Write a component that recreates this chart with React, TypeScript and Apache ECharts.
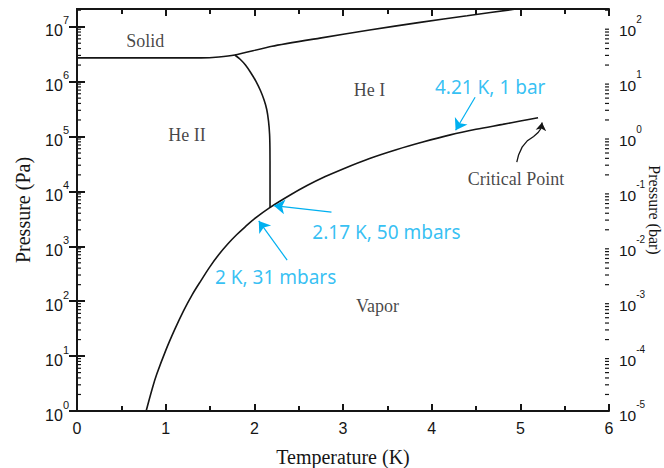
import React, { useEffect, useRef } from "react";
import * as echarts from "echarts";

// Saturated vapour pressure curve (T in K, P in Pa)
const vaporT = [0.78, 0.85, 0.9, 1.0, 1.1, 1.2, 1.3, 1.4, 1.5, 1.6, 1.7, 1.8, 1.9, 2.0, 2.17, 2.4, 2.6, 2.8, 3.0, 3.3, 3.6, 3.9, 4.21, 4.5, 4.8, 5.0, 5.2];
const vaporP = [1, 2.6, 4.7, 12.6, 30, 66, 132, 240, 427, 708, 1100, 1620, 2290, 3160, 5010, 8510, 12900, 18600, 25700, 39800, 57500, 79400, 107000, 135000, 166000, 191000, 219000];

// Melting curve
const meltT = [0, 0.5, 1.0, 1.4, 1.6, 1.78, 2.2, 2.74, 3.3, 3.87, 4.4, 4.95];
const meltP = [2.7e6, 2.7e6, 2.7e6, 2.7e6, 2.8e6, 3.05e6, 4.4e6, 6.2e6, 8.7e6, 1.2e7, 1.58e7, 2.1e7];

// Lambda line
const lambdaT = [1.78, 1.84, 1.9, 1.96, 2.02, 2.07, 2.11, 2.14, 2.16, 2.172, 2.176, 2.177, 2.177];
const lambdaP = [3.05e6, 2.55e6, 2.0e6, 1.45e6, 1.0e6, 6.8e5, 4.6e5, 3.1e5, 1.9e5, 1.1e5, 6.0e4, 2.0e4, 5.0e3];

// Axis settings
const xTicks = [0, 1, 2, 3, 4, 5, 6];
const pMin = 1;
const pMax = 2.1e7;
const decades = [0, 1, 2, 3, 4, 5, 6, 7];

// Region labels [T, P, text]
const regionLabels: [number, number, string][] = [
  [0.77, 5.5e6, "Solid"],
  [3.3, 7.0e5, "He I"],
  [1.24, 1.07e5, "He II"],
  [4.95, 1.7e4, "Critical Point"],
  [3.39, 81, "Vapor"],
];

// Blue annotations [T, P, text]
const noteLabels: [number, number, string][] = [
  [4.66, 7.9e5, "4.21 K, 1 bar"],
  [3.49, 1820, "2.17 K, 50 mbars"],
  [2.24, 275, "2 K, 31 mbars"],
];

// Blue arrows [[T1,P1],[T2,P2]]
const noteArrows: [number, number][][] = [
  [[4.49, 5.2e5], [4.27, 1.3e5]],
  [[2.87, 4200], [2.22, 5500]],
  [[2.37, 560], [2.05, 2900]],
];

// Critical point arrow: curved shaft and arrow head segment
const critShaft: [number, number][] = [
  [4.96, 3.4e4], [4.98, 4.6e4], [5.02, 6.4e4], [5.08, 8.4e4], [5.15, 1.0e5], [5.2, 1.18e5], [5.23, 1.38e5], [5.24, 1.6e5],
];
const critHead: [number, number][] = [[5.238, 1.5e5], [5.245, 1.8e5]];

const BLUE = "#00B0F0";
const INK = "#151515";
const SERIF = "'Liberation Serif', 'Times New Roman', serif";
const SANS = "'Liberation Sans', Arial, sans-serif";

function zip(a: number[], b: number[]) {
  return a.map((v, i) => [v, b[i]]);
}

function expLabel(offset: number) {
  return (value: number) => {
    const n = Math.round(Math.log10(value));
    if (Math.abs(Math.log10(value) - n) > 1e-6) return "";
    return `{b|10}{s|${n + offset}}`;
  };
}

const richLeft = {
  b: { fontSize: 16, fontFamily: SANS, color: INK, lineHeight: 24, verticalAlign: "bottom" },
  s: { fontSize: 11, fontFamily: SANS, color: INK, lineHeight: 12, verticalAlign: "top" },
};
const richRight = {
  b: { fontSize: 15.5, fontFamily: SANS, color: INK, lineHeight: 24, verticalAlign: "bottom" },
  s: { fontSize: 10, fontFamily: SANS, color: INK, lineHeight: 12, verticalAlign: "top" },
};

export default function App() {
  const ref = useRef<HTMLDivElement>(null);
  useEffect(() => {
    if (!ref.current) return;
    const chart = echarts.init(ref.current, undefined, { renderer: "svg" });

    const minorVals: number[][] = [];
    decades.forEach((d) => {
      for (let k = 2; k <= 9; k++) {
        const v = k * Math.pow(10, d);
        if (v < pMax) minorVals.push([0, v]);
      }
    });

    const xAxisBase = {
      type: "value",
      min: xTicks[0],
      max: xTicks[xTicks.length - 1],
      interval: 1,
      axisLine: { show: true, lineStyle: { color: INK, width: 2 } },
      axisTick: { show: true, inside: true, length: 7, lineStyle: { color: INK, width: 2 } },
      minorTick: { show: true, splitNumber: 2, length: 5, lineStyle: { color: INK, width: 2 } },
      splitLine: { show: false },
    };
    const yAxisBase = {
      type: "log",
      logBase: 10,
      min: pMin,
      max: pMax,
      splitNumber: 7,
      axisLine: { show: true, lineStyle: { color: INK, width: 2 } },
      axisTick: { show: true, inside: true, length: 8, lineStyle: { color: INK, width: 2 } },
      splitLine: { show: false },
      nameLocation: "middle",
      nameMoveOverlap: false,
    };

    chart.setOption({
      animation: false,
      backgroundColor: "#ffffff",
      grid: { left: 77, right: 55, top: 9, bottom: 57, containLabel: false, outerBoundsMode: "none" },
      xAxis: [
        {
          ...xAxisBase,
          position: "bottom",
          name: "Temperature (K)",
          nameLocation: "middle",
          nameGap: 36,
          nameMoveOverlap: false,
          nameTextStyle: { fontFamily: SERIF, fontSize: 20, color: INK },
          axisLabel: { show: true, margin: 9, fontFamily: SANS, fontSize: 16, color: INK },
        },
        {
          ...xAxisBase,
          position: "top",
          axisLabel: { show: false },
        },
      ],
      yAxis: [
        {
          ...yAxisBase,
          position: "left",
          name: "Pressure (Pa)",
          nameGap: 44,
          nameRotate: 90,
          nameTextStyle: { fontFamily: SERIF, fontSize: 20, color: INK },
          axisLabel: { show: true, margin: 8, showMaxLabel: false, formatter: expLabel(0), rich: richLeft },
        },
        {
          ...yAxisBase,
          position: "right",
          name: "Pressure (bar)",
          nameGap: 37,
          nameRotate: -90,
          nameTextStyle: { fontFamily: SERIF, fontSize: 16, color: INK },
          axisLabel: { show: true, margin: 10, showMaxLabel: false, formatter: expLabel(-5), rich: richRight },
        },
      ],
      series: [
        {
          type: "line",
          data: zip(vaporT, vaporP),
          showSymbol: false,
          smooth: 0.35,
          lineStyle: { color: INK, width: 1.6 },
          z: 3,
        },
        {
          type: "line",
          data: zip(meltT, meltP),
          showSymbol: false,
          smooth: 0.2,
          lineStyle: { color: INK, width: 1.6 },
          z: 3,
        },
        {
          type: "line",
          data: zip(lambdaT, lambdaP),
          showSymbol: false,
          smooth: 0.3,
          lineStyle: { color: INK, width: 1.6 },
          z: 3,
        },
        {
          type: "custom",
          data: minorVals,
          silent: true,
          clip: false,
          renderItem: (params: any, api: any) => {
            const v = api.value(1);
            const l = api.coord([xTicks[0], v]);
            const r = api.coord([xTicks[xTicks.length - 1], v]);
            return {
              type: "group",
              children: [
                { type: "line", shape: { x1: l[0], y1: l[1], x2: l[0] + 4, y2: l[1] }, style: { stroke: INK, lineWidth: 1.2 } },
                { type: "line", shape: { x1: r[0] - 4, y1: r[1], x2: r[0], y2: r[1] }, style: { stroke: INK, lineWidth: 1.2 } },
              ],
            };
          },
        },
        {
          type: "scatter",
          symbolSize: 1,
          itemStyle: { color: "rgba(0,0,0,0)" },
          silent: true,
          data: regionLabels.map(([t, p, s]) => ({ name: s, value: [t, p] })),
          label: {
            show: true,
            position: "inside",
            formatter: "{b}",
            fontFamily: SERIF,
            fontSize: 18,
            color: INK,
          },
          z: 5,
        },
        {
          type: "scatter",
          symbolSize: 1,
          itemStyle: { color: "rgba(0,0,0,0)" },
          silent: true,
          data: noteLabels.map(([t, p, s]) => ({ name: s, value: [t, p] })),
          label: {
            show: true,
            position: "inside",
            formatter: "{b}",
            fontFamily: "'Noto Sans', 'Open Sans', sans-serif",
            fontSize: 19,
            color: BLUE,
          },
          z: 5,
        },
        {
          type: "lines",
          coordinateSystem: "cartesian2d",
          silent: true,
          symbol: ["none", "arrow"],
          symbolSize: 11,
          lineStyle: { color: BLUE, width: 1.2, opacity: 1 },
          data: noteArrows.map((c) => ({ coords: c })),
          z: 6,
        },
        {
          type: "lines",
          coordinateSystem: "cartesian2d",
          polyline: true,
          silent: true,
          symbol: "none",
          lineStyle: { color: INK, width: 1.3, opacity: 1 },
          data: [{ coords: critShaft }],
          z: 6,
        },
        {
          type: "lines",
          coordinateSystem: "cartesian2d",
          silent: true,
          symbol: ["none", "arrow"],
          symbolSize: 8,
          lineStyle: { color: INK, width: 1.3, opacity: 1 },
          data: [{ coords: critHead }],
          z: 6,
        },
      ],
    });
    return () => chart.dispose();
  }, []);
  return <div ref={ref} style={{ width: 664, height: 468, position: "absolute", left: 0, top: 0 }} />;
}
